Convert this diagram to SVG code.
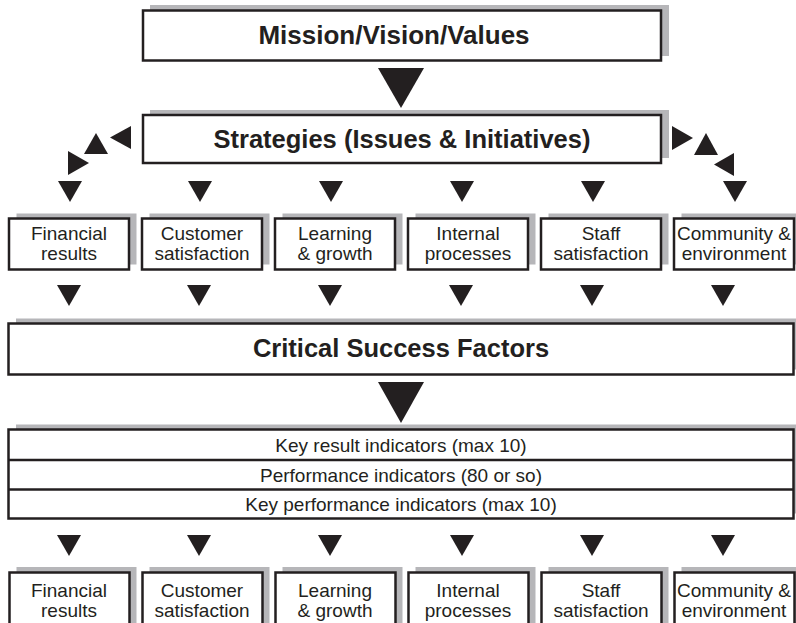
<svg xmlns="http://www.w3.org/2000/svg" width="796" height="623" viewBox="0 0 796 623">
<defs>
<style>
.box{fill:#ffffff;stroke:#231f20;stroke-width:2.5}
.sh{fill:#b6b6b9}
.tri{fill:#231f20}
.t{font-family:"Liberation Sans",Arial,Helvetica,sans-serif;fill:#231f20;text-anchor:middle}
.big{font-size:25.5px;font-weight:bold}
.sm{font-size:19px}
</style>
<polygon id="dn" points="-12,0 12,0 0,21"/>
</defs>
<rect width="796" height="623" fill="#ffffff"/>

<g id="mission">
<rect class="sh" x="150" y="5" width="519" height="51"/>
<rect class="box" x="143" y="10.5" width="518" height="50"/>
<text class="t big" x="394" y="44" style="font-size:26px">Mission/Vision/Values</text>
</g>

<g id="strategies">
<rect class="sh" x="150" y="110" width="519" height="48"/>
<rect class="box" x="143" y="115" width="518" height="48"/>
<text class="t big" x="402" y="148">Strategies (Issues &amp; Initiatives)</text>
</g>

<g id="top-financial">
<rect class="sh" x="16.5" y="213.5" width="120" height="51"/>
<rect class="box" x="9" y="218.5" width="120" height="51"/>
<text class="t sm" x="69" y="240">Financial</text>
<text class="t sm" x="69" y="260">results</text>
</g>
<g id="top-customer">
<rect class="sh" x="149.5" y="213.5" width="120" height="51"/>
<rect class="box" x="142" y="218.5" width="120" height="51"/>
<text class="t sm" x="202" y="240">Customer</text>
<text class="t sm" x="202" y="260">satisfaction</text>
</g>
<g id="top-learning">
<rect class="sh" x="282.5" y="213.5" width="120" height="51"/>
<rect class="box" x="275" y="218.5" width="120" height="51"/>
<text class="t sm" x="335" y="240">Learning</text>
<text class="t sm" x="335" y="260">&amp; growth</text>
</g>
<g id="top-internal">
<rect class="sh" x="415.5" y="213.5" width="120" height="51"/>
<rect class="box" x="408" y="218.5" width="120" height="51"/>
<text class="t sm" x="468" y="240">Internal</text>
<text class="t sm" x="468" y="260">processes</text>
</g>
<g id="top-staff">
<rect class="sh" x="548.5" y="213.5" width="120" height="51"/>
<rect class="box" x="541" y="218.5" width="120" height="51"/>
<text class="t sm" x="601" y="240">Staff</text>
<text class="t sm" x="601" y="260">satisfaction</text>
</g>
<g id="top-community">
<rect class="sh" x="681.5" y="213.5" width="120" height="51"/>
<rect class="box" x="674" y="218.5" width="120" height="51"/>
<text class="t sm" x="734" y="240">Community &amp;</text>
<text class="t sm" x="734" y="260">environment</text>
</g>

<g id="csf">
<rect class="sh" x="16" y="318.5" width="785" height="51"/>
<rect class="box" x="8.5" y="323.5" width="785" height="51"/>
<text class="t big" x="401" y="357">Critical Success Factors</text>
</g>

<g id="indicators">
<rect class="sh" x="16" y="424.5" width="785" height="89"/>
<rect class="box" x="8.5" y="429.5" width="785" height="89"/>
<line x1="8.5" y1="460" x2="793.5" y2="460" stroke="#231f20" stroke-width="2.5"/>
<line x1="8.5" y1="489.5" x2="793.5" y2="489.5" stroke="#231f20" stroke-width="2.5"/>
<text class="t sm" x="401" y="452">Key result indicators (max 10)</text>
<text class="t sm" x="401" y="481.5">Performance indicators (80 or so)</text>
<text class="t sm" x="401" y="511">Key performance indicators (max 10)</text>
</g>

<g id="bottom-financial">
<rect class="sh" x="16.5" y="567" width="120" height="70"/>
<rect class="box" x="9.5" y="572.5" width="120" height="70"/>
<text class="t sm" x="69" y="597">Financial</text>
<text class="t sm" x="69" y="617">results</text>
</g>
<g id="bottom-customer">
<rect class="sh" x="149.5" y="567" width="120" height="70"/>
<rect class="box" x="142.5" y="572.5" width="120" height="70"/>
<text class="t sm" x="202" y="597">Customer</text>
<text class="t sm" x="202" y="617">satisfaction</text>
</g>
<g id="bottom-learning">
<rect class="sh" x="282.5" y="567" width="120" height="70"/>
<rect class="box" x="275.5" y="572.5" width="120" height="70"/>
<text class="t sm" x="335" y="597">Learning</text>
<text class="t sm" x="335" y="617">&amp; growth</text>
</g>
<g id="bottom-internal">
<rect class="sh" x="415.5" y="567" width="120" height="70"/>
<rect class="box" x="408.5" y="572.5" width="120" height="70"/>
<text class="t sm" x="468" y="597">Internal</text>
<text class="t sm" x="468" y="617">processes</text>
</g>
<g id="bottom-staff">
<rect class="sh" x="548.5" y="567" width="120" height="70"/>
<rect class="box" x="541.5" y="572.5" width="120" height="70"/>
<text class="t sm" x="601" y="597">Staff</text>
<text class="t sm" x="601" y="617">satisfaction</text>
</g>
<g id="bottom-community">
<rect class="sh" x="681.5" y="567" width="120" height="70"/>
<rect class="box" x="674.5" y="572.5" width="120" height="70"/>
<text class="t sm" x="734" y="597">Community &amp;</text>
<text class="t sm" x="734" y="617">environment</text>
</g>

<g id="connectors" class="tri">
<polygon points="378,68 424,68 401,108"/>
<polygon points="378,382 424,382 401,423"/>
<polygon points="131,126 131,149 110,137.5"/>
<polygon points="84,154 108,154 96,133"/>
<polygon points="68,151 68,175 89,163"/>
<polygon points="672,126 672,150 693,138"/>
<polygon points="694,155 718,155 706,133"/>
<polygon points="734,153 734,176 714,164.5"/>
<use href="#dn" x="70" y="181"/>
<use href="#dn" x="200" y="181"/>
<use href="#dn" x="331" y="181"/>
<use href="#dn" x="462" y="181"/>
<use href="#dn" x="593" y="181"/>
<use href="#dn" x="735" y="181"/>
<use href="#dn" x="69" y="285"/>
<use href="#dn" x="199" y="285"/>
<use href="#dn" x="330" y="285"/>
<use href="#dn" x="461" y="285"/>
<use href="#dn" x="592" y="285"/>
<use href="#dn" x="723" y="285"/>
<use href="#dn" x="69" y="535"/>
<use href="#dn" x="199" y="535"/>
<use href="#dn" x="330" y="535"/>
<use href="#dn" x="462" y="535"/>
<use href="#dn" x="592" y="535"/>
<use href="#dn" x="723" y="535"/>
</g>
</svg>
